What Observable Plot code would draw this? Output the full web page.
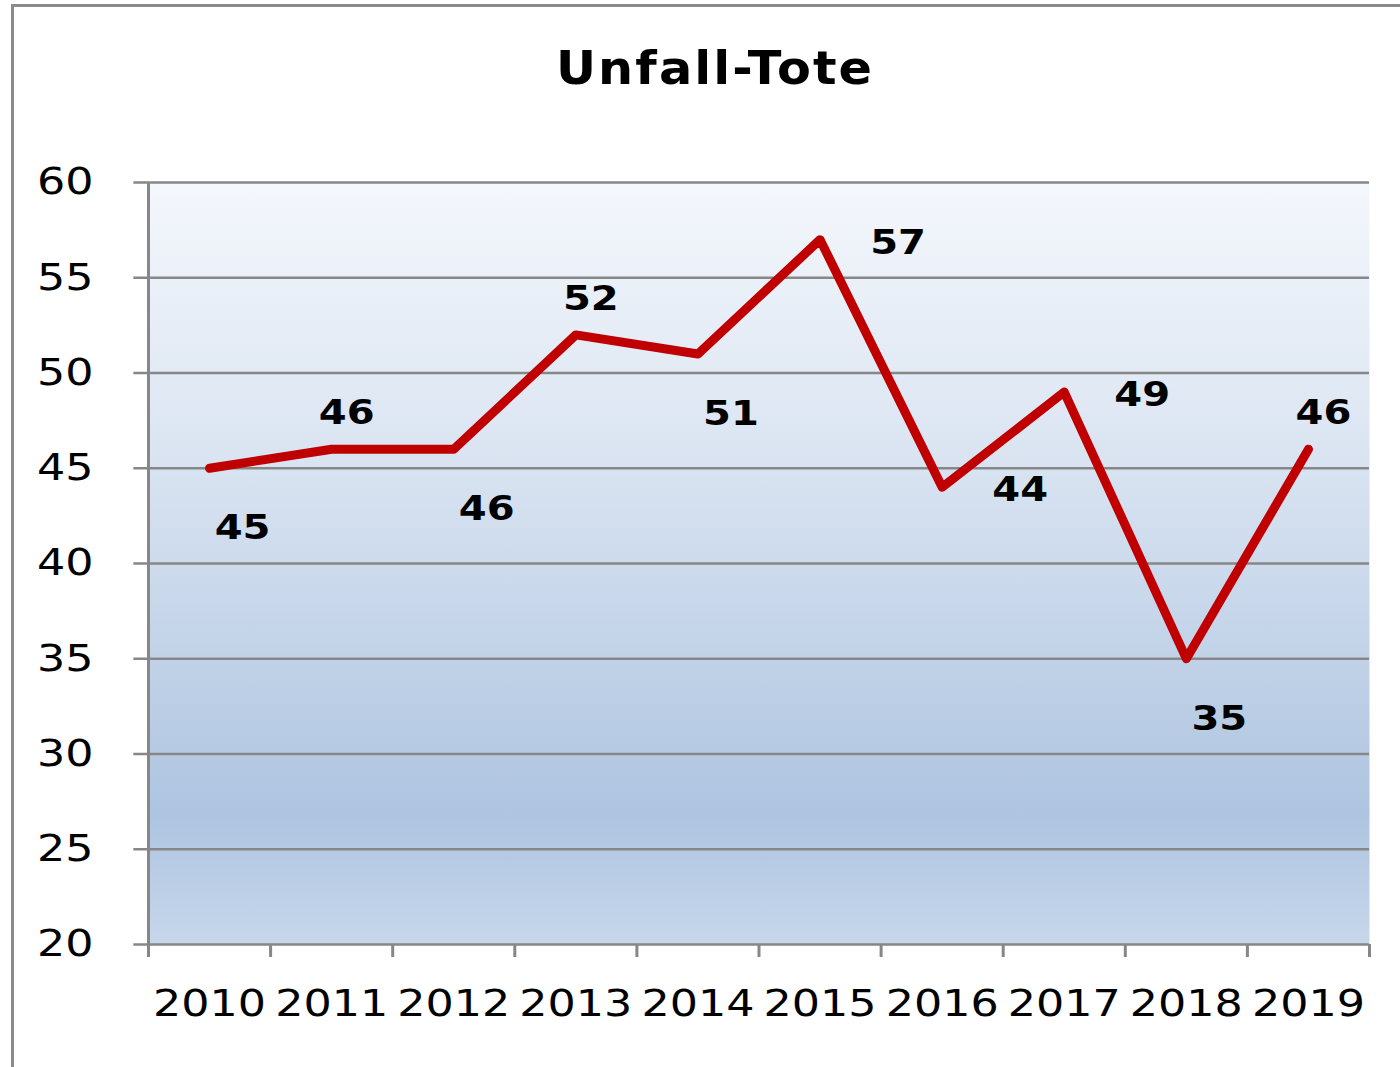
<!DOCTYPE html>
<html>
<head>
<meta charset="utf-8">
<script src="https://cdn.jsdelivr.net/npm/d3@7"></script>
<script src="https://cdn.jsdelivr.net/npm/@observablehq/plot@0.6"></script>
<style>
  html, body { margin: 0; padding: 0; background: #fff; }
  #wrap { position: relative; width: 1400px; height: 1067px; overflow: hidden; }
  #frame { position: absolute; left: 11px; top: 4px; width: 1400px; height: 1100px;
           border-left: 3px solid #8a8a8a; border-top: 3px solid #8a8a8a; box-sizing: border-box; }
  #title { position: absolute; left: 0; width: 1430px; top: 40px; text-align: center;
           font-family: "DejaVu Sans", sans-serif; font-weight: bold; font-size: 47px;
           letter-spacing: 2px; color: #000; transform: scaleX(1.05); transform-origin: 714px 0; }
  #chart { position: absolute; left: 0; top: 0; }
  #chart svg { font-family: "DejaVu Sans", sans-serif; }
</style>
</head>
<body>
<div id="wrap">
  <div id="frame"></div>
  <div id="chart"></div>
  <div id="title">Unfall-Tote</div>
</div>
<script>
const years = [2010, 2011, 2012, 2013, 2014, 2015, 2016, 2017, 2018, 2019];
const deaths = [45, 46, 46, 52, 51, 57, 44, 49, 35, 46];
const labelPlacement = ["below", "above", "below", "above", "below", "right", "right", "right", "below", "above"];
const yTicks = [20, 25, 30, 35, 40, 45, 50, 55, 60];

const data = years.map((y, i) => ({year: y, value: deaths[i], place: labelPlacement[i]}));
const boundaries = d3.range(years.length + 1).map(i => years[0] - 0.5 + i);

const placementStyle = {
  below: {dx: 33, dy: 60},
  above: {dx: 15, dy: -36},
  right: {dx: 78, dy: 3}
};

const gradient = () => {
  const svgNS = "http://www.w3.org/2000/svg";
  const g = document.createElementNS(svgNS, "g");
  g.innerHTML = `<defs><linearGradient id="bgGrad" x1="0" y1="0" x2="0" y2="1">
      <stop offset="0" stop-color="#f4f7fc"/>
      <stop offset="0.35" stop-color="#dbe5f2"/>
      <stop offset="0.83" stop-color="#aec4e0"/>
      <stop offset="1" stop-color="#c7d7eb"/>
    </linearGradient></defs>`;
  return g;
};

const textMarks = Object.entries(placementStyle).map(([place, s]) =>
  Plot.text(data.filter(d => d.place === place), {
    x: "year", y: "value", text: d => String(d.value),
    dx: s.dx, dy: s.dy, fontSize: 34, fontWeight: "bold", fill: "#000"
  })
);

const chart = Plot.plot({
  width: 1400,
  height: 1067,
  marginLeft: 148,
  marginRight: 31,
  marginTop: 182,
  marginBottom: 123,
  style: {background: "transparent", overflow: "visible"},
  x: {domain: [years[0] - 0.5, years[years.length - 1] + 0.5], axis: null},
  y: {domain: [20, 60], axis: null},
  marks: [
    gradient,
    Plot.frame({fill: "url(#bgGrad)", stroke: null}),
    Plot.ruleY(yTicks, {x1: years[0] - 0.5 - 0.12, x2: years[years.length - 1] + 0.5, stroke: "#878787", strokeWidth: 2.5}),
    Plot.ruleX([years[0] - 0.5], {y1: 20, y2: 60, stroke: "#878787", strokeWidth: 3}),
    Plot.axisY({ticks: yTicks, tickSize: 0, tickPadding: 55, fontSize: 37, label: null, tickFormat: d => String(d)}),
    Plot.axisX({ticks: boundaries, tickSize: 13, tickFormat: () => "", label: null, stroke: "#878787", strokeWidth: 3}),
    Plot.axisX({ticks: years, tickSize: 0, tickPadding: 45, fontSize: 37, label: null, tickFormat: d => String(d)}),
    Plot.line(data, {x: "year", y: "value", stroke: "#c00000", strokeWidth: 9, strokeLinecap: "round", strokeLinejoin: "round"}),
    ...textMarks
  ]
});
document.getElementById("chart").appendChild(chart);

// widen glyphs horizontally to match the reference's stretched lettering
function stretch(selector, factor) {
  chart.querySelectorAll(selector).forEach(t => {
    const w = t.getComputedTextLength();
    if (w > 0) {
      t.setAttribute("textLength", (w * factor).toFixed(1));
      t.setAttribute("lengthAdjust", "spacingAndGlyphs");
    }
  });
}
stretch('g[aria-label="x-axis tick label"] text', 1.2);
stretch('g[aria-label="y-axis tick label"] text', 1.2);
stretch('g[aria-label="text"] text', 1.18);
</script>
</body>
</html>
